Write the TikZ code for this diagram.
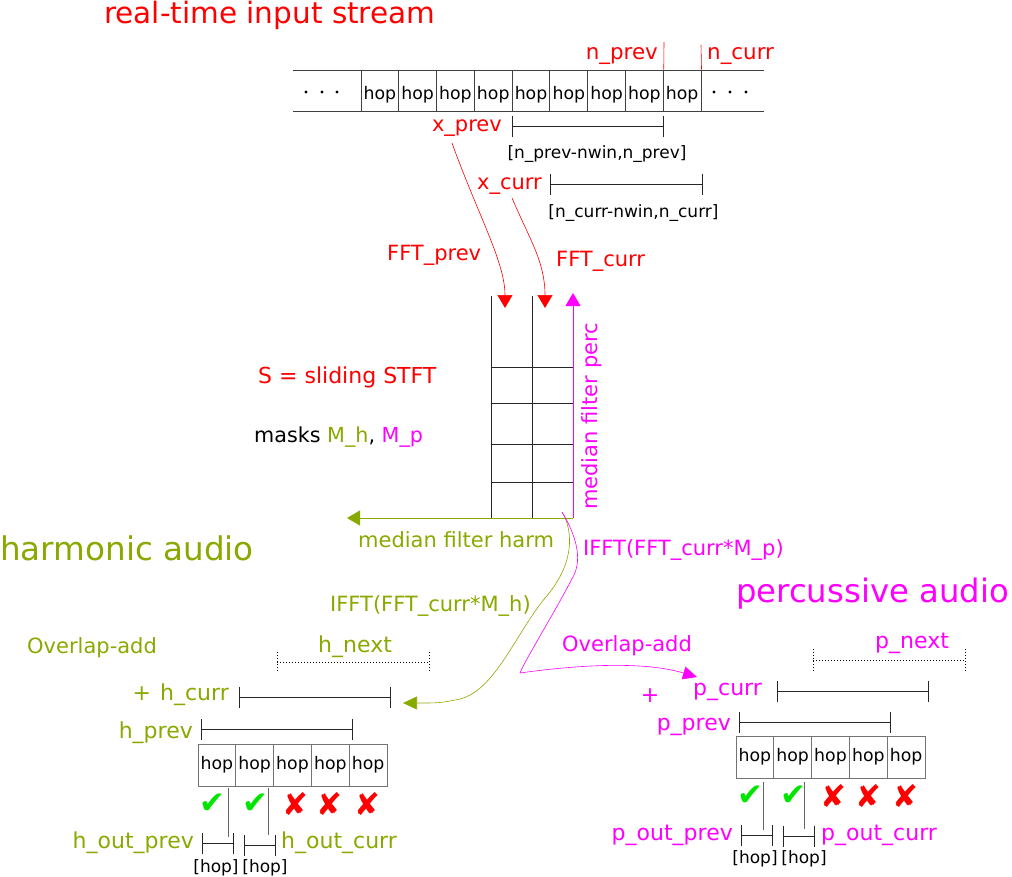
\documentclass[tikz,border=0pt]{standalone}
\usepackage{fontspec}
\setmainfont{DejaVu Sans}
\usetikzlibrary{arrows.meta}
\definecolor{hgreen}{HTML}{88AA00}
\definecolor{pmag}{HTML}{FF00FF}
\definecolor{rred}{HTML}{FF0000}
\definecolor{okgreen}{HTML}{00E600}
\begin{document}
\begin{tikzpicture}[x=1pt,y=-1pt,
  lab/.style={inner sep=0pt,font=\fontsize{21}{25}\selectfont},
  labb/.style={inner sep=0pt,font=\fontsize{22}{26}\selectfont},
  sm/.style={inner sep=0pt,font=\fontsize{17}{20}\selectfont},
  big/.style={inner sep=0pt,font=\fontsize{32.6}{38}\selectfont},
  topcell/.style={draw=black!75,line width=1pt,minimum width=37.78pt,minimum height=41pt,inner sep=0pt,font=\fontsize{17.3}{20}\selectfont,text height=17pt,text depth=0pt},
  botcell/.style={topcell,draw=black!55,minimum width=37.8pt,minimum height=42pt,text height=8pt},
  okmark/.style={inner sep=0pt,text=okgreen,font=\fontsize{31}{34}\selectfont},
  badmark/.style={inner sep=0pt,text=rred,font=\fontsize{31}{34}\selectfont},
  brk/.style={line width=1pt,draw=black!85,{Bar[width=21pt,line width=1pt]}-{Bar[width=21pt,line width=1pt]}},
  dotbrk/.style={line width=1pt,dotted},
  tri/.style={-{Triangle[width=15pt,length=13pt]}},
  thin/.style={line width=0.6pt},
  gridline/.style={line width=1pt,draw=black!85},
]
\useasboundingbox (0,0) rectangle (1012,876);

% ---------------- title and input stream
\node[inner sep=0pt,font=\fontsize{29.5}{34}\selectfont,text=rred,anchor=base west] (title) at (104,23) {real-time input stream};
\draw[line width=1pt,black!75] (293,70) -- (764,70);
\draw[line width=1pt,black!75] (293,111) -- (764,111);
\foreach \i in {0,...,8}
  \node[topcell] (top\i) at ({361+37.78*\i+18.89},90.5) {hop};
\foreach \x in {306,322,337,714,730,746}
  \fill (\x,92) circle (1.7pt);

\node[lab,text=rred,anchor=base east,font=\fontsize{21.4}{25}\selectfont] (nprev) at (658,59) {n\_prev};
\node[lab,text=rred,anchor=base west,font=\fontsize{21.4}{25}\selectfont] (ncurr) at (707,59) {n\_curr};
\coordinate (npt) at (664,42);
\coordinate (nct) at (701,45);
\draw[rred,thin] (npt) -- (top7.north east);
\draw[rred,thin] (nct) -- (top8.north east);

\node[lab,text=rred,anchor=base east] (xprev) at (502,131) {x\_prev};
\draw[brk] (512,126) -- (664,126);
\node[sm,anchor=base] (rprev) at (597,158) {[n\_prev-nwin,n\_prev]};
\node[lab,text=rred,anchor=base east] (xcurr) at (542,189) {x\_curr};
\draw[brk] (550,184) -- (703,184);
\node[sm,anchor=base] (rcurr) at (633.5,217) {[n\_curr-nwin,n\_curr]};

\node[lab,text=rred,anchor=base west] (fftprev) at (387,260) {FFT\_prev};
\node[lab,text=rred,anchor=base west] (fftcurr) at (556,266) {FFT\_curr};

% ---------------- STFT grid
\coordinate (g1t) at (491,296); \coordinate (g1b) at (491,518);
\coordinate (g2t) at (532,296); \coordinate (g2b) at (532,518);
\coordinate (g3b) at (573,518);
\draw[gridline] (g1t) -- (g1b);
\draw[gridline] (g2t) -- (g2b);
\foreach \y in {367,403,444,482}
  \draw[gridline] (491,\y) -- (573,\y);

\coordinate (tipA) at (505,308);
\coordinate (tipB) at (545,308);
\coordinate (xps) at (452,143);
\coordinate (xcs) at (512,198);
\draw[rred,thin,tri] (xps) .. controls (478,215) and (505,262) .. (tipA);
\draw[rred,thin,tri] (xcs) .. controls (530,240) and (545,262) .. (tipB);

\coordinate (ptip) at (573,293);
\coordinate (htip) at (347,518);
\draw[pmag,line width=1pt,tri] (g3b) -- (ptip);
\draw[hgreen,line width=1pt,tri] (g3b) -- (htip);

\node[lab,text=pmag,rotate=90,anchor=base west] (mfp) at (597,510) {median filter perc};
\node[lab,text=hgreen,anchor=base west] (mfh) at (358,547) {median filter harm};

\node[labb,text=rred,anchor=base west] (stft) at (258,383) {S = sliding STFT};
\node[lab,anchor=base west,font=\fontsize{20.7}{25}\selectfont] (masks) at (254,442) {masks {\color{hgreen}M\_h}, {\color{pmag}M\_p}};

\node[big,text=hgreen,anchor=base west] (harm) at (0,560) {harmonic audio};
\node[big,text=pmag,anchor=base west,font=\fontsize{32.3}{38}\selectfont] (perc) at (736,602) {percussive audio};

\node[lab,text=pmag,anchor=base west] (ifftp) at (583,555) {IFFT(FFT\_curr*M\_p)};
\node[lab,text=hgreen,anchor=base west] (iffth) at (330,611) {IFFT(FFT\_curr*M\_h)};

% ---------------- IFFT curves
\coordinate (cs) at (562,512);
\coordinate (hend) at (403,703);
\coordinate (pend) at (697,677);
\draw[hgreen,thin,-{Triangle[width=13pt,length=14pt]}] (cs) .. controls (574,532) and (574,565) .. (545,598)
   .. controls (515,635) and (495,690) .. (460,699) .. controls (440,703) .. (hend);
\draw[pmag,thin,-{Triangle[width=13pt,length=14pt]}] (cs) .. controls (576,535) and (582,558) .. (574,575)
   .. controls (555,612) and (525,660) .. (520,673) .. controls (570,666) and (640,660) .. (pend);

% ---------------- harmonic overlap-add
\node[lab,text=hgreen,anchor=base west] (olah) at (27,653) {Overlap-add};
\node[labb,text=hgreen,anchor=base west] (hnext) at (318,652) {h\_next};
\draw[dotbrk] (277,662) -- (429,662);
\draw[dotbrk] (277,652) -- (277,672);
\draw[dotbrk] (429,652) -- (429,672);
\node[labb,text=hgreen,anchor=base east] (hcurr) at (229,700) {+\hspace{9pt}h\_curr};
\draw[brk] (239,697) -- (391,697);
\node[labb,text=hgreen,anchor=base east] (hprev) at (193,738) {h\_prev};
\draw[brk] (201,729) -- (353,729);
\foreach \i in {0,...,4}
  \node[botcell] (hc\i) at ({198+37.8*\i+18.9},765) {hop};
\node[okmark] (hk1) at (212,804) {✔};
\node[okmark] (hk2) at (255,804) {✔};
\node[badmark] (hx1) at (295,804) {✘};
\node[badmark] (hx2) at (329,804) {✘};
\node[badmark] (hx3) at (367,804) {✘};
\draw[line width=1pt,black!60] (228,788) -- (228,837);
\draw[line width=1pt,black!60] (268,788) -- (268,835);
\draw[brk] (202,843) -- (234,843);
\draw[brk] (244,845) -- (276,845);
\node[labb,text=hgreen,anchor=base east] (houtp) at (194,848) {h\_out\_prev};
\node[labb,text=hgreen,anchor=base west] (houtc) at (281,848) {h\_out\_curr};
\node[sm,anchor=base] (hh1) at (216,872) {[hop]};
\node[sm,anchor=base] (hh2) at (265,872) {[hop]};

% ---------------- percussive overlap-add
\node[lab,text=pmag,anchor=base west] (olap) at (562,651) {Overlap-add};
\node[labb,text=pmag,anchor=base west] (pnext) at (875,648) {p\_next};
\draw[dotbrk] (813,660) -- (965,660);
\draw[dotbrk] (813,649) -- (813,671);
\draw[dotbrk] (965,649) -- (965,671);
\node[labb,text=pmag] (plus) at (650,696) {+};
\node[labb,text=pmag,anchor=base west] (pcurr) at (693,695) {p\_curr};
\draw[brk] (777,691) -- (929,691);
\node[labb,text=pmag,anchor=base east] (pprev) at (731,730) {p\_prev};
\draw[brk] (739,722) -- (891,722);
\foreach \i in {0,...,4}
  \node[botcell] (pc\i) at ({736+37.8*\i+18.9},757) {hop};
\node[okmark] (pk1) at (750,796) {✔};
\node[okmark] (pk2) at (793,796) {✔};
\node[badmark] (px1) at (833,796) {✘};
\node[badmark] (px2) at (868,796) {✘};
\node[badmark] (px3) at (905,796) {✘};
\draw[line width=1pt,black!60] (763,782) -- (763,830);
\draw[line width=1pt,black!60] (804,782) -- (804,829);
\draw[brk] (741,835) -- (773,835);
\draw[brk] (783,836) -- (815,836);
\node[labb,text=pmag,anchor=base east] (poutp) at (733,840) {p\_out\_prev};
\node[labb,text=pmag,anchor=base west] (poutc) at (821,840) {p\_out\_curr};
\node[sm,anchor=base] (ph1) at (755,863) {[hop]};
\node[sm,anchor=base] (ph2) at (804,863) {[hop]};
\end{tikzpicture}
\end{document}
